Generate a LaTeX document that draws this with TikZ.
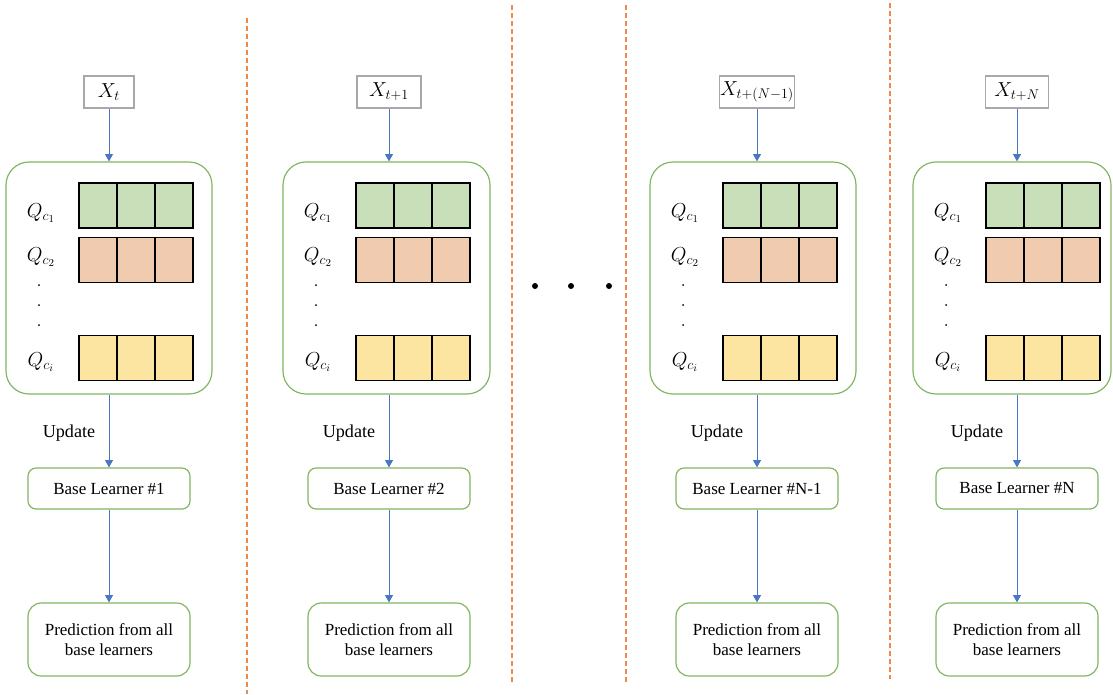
\documentclass[tikz,border=0pt]{standalone}
\usepackage{amsmath, amssymb}
\usepackage{fontspec}
\setmainfont{Liberation Serif}
\usepackage{xcolor}
\usepackage{tikz}
\usetikzlibrary{arrows.meta}

\definecolor{boxgreen}{HTML}{82B460}
\definecolor{flowblue}{HTML}{4A76C6}
\definecolor{xgray}{HTML}{A8A8A8}
\definecolor{sepor}{HTML}{EE8A4A}
\definecolor{cellgreen}{HTML}{C9DFB9}
\definecolor{cellorange}{HTML}{F1CBB0}
\definecolor{cellyellow}{HTML}{FBE5A1}

\begin{document}
\begin{tikzpicture}[
    x=0.3mm, y=-0.3mm,
    every node/.style={font=\fontsize{14.5}{17}\selectfont},
    mathlbl/.style={font=\fontsize{17.5}{20}\selectfont},
    xbox/.style={mathlbl, draw=xgray, line width=1pt, minimum height=9.6mm, inner sep=0pt},
    membox/.style={draw=boxgreen, line width=1pt, rounded corners=6.9mm, minimum height=69.6mm},
    cell/.style={draw=black, line width=1.2pt, minimum width=11.4mm, minimum height=13.5mm, inner sep=0pt},
    learner/.style={draw=boxgreen, line width=1pt, rounded corners=2.4mm, minimum width=48.6mm, minimum height=12.3mm},
    predbox/.style={draw=boxgreen, line width=1pt, rounded corners=4mm, minimum width=48.6mm, minimum height=21.9mm, align=center},
    flow/.style={draw=flowblue, line width=0.8pt, -{Triangle[width=2.4mm,length=2.2mm]}},
    sep/.style={draw=sepor, line width=1.3pt, dash pattern=on 1.5mm off 0.9mm},
]
\useasboundingbox (0,0) rectangle (1113,694);

% Separadores
\draw[sep] (247,18) -- (247,694);
\draw[sep] (512,5) -- (512,683);
\draw[sep] (626,5) -- (626,683);
\draw[sep] (890,3) -- (890,679);

% Pontos entre colunas
\foreach \d in {535,571,609}
    \fill (\d,286) circle (0.9mm);

% Colunas
\foreach \i/\cx/\ax/\w/\xw/\lbl/\num in {
    1/109/109/206/15/{X_t}/1,
    2/386.5/389/207/19.2/{X_{t+1}}/2,
    3/753/757/206/22.5/{X_{t+(N-1)}}/N-1,
    4/1012/1017/198/18.9/{X_{t+N}}/N}
{
    \pgfmathsetmacro{\rx}{\cx-\w/2+130}
    \pgfmathsetmacro{\lx}{\cx-\w/2+35}

    \node[xbox, minimum width={\xw*1mm}] (x\i) at (\ax,92) {$\lbl$};
    \node[membox, minimum width={\w*0.3mm}] (mem\i) at (\cx,278) {};

    % filas
    \foreach \r/\ry/\col in {1/205.5/cellgreen, 2/260/cellorange, 3/358/cellyellow}
        \foreach \k in {1,2,3}
            \node[cell, fill=\col] (q\i-\r-\k) at ({\rx+(\k-2)*38},\ry) {};

    \node[mathlbl] (qa\i) at (\lx,213) {$Q_{c_1}$};
    \node[mathlbl] (qb\i) at (\lx,257) {$Q_{c_2}$};
    \node[mathlbl] (qc\i) at (\lx,362) {$Q_{c_i}$};
    \foreach \dy in {285,305,325}
        \fill (\lx-2,\dy) circle (0.3mm);

    \node[font=\fontsize{15.5}{18}\selectfont] (upd\i) at ({\ax-40},433) {Update};
    \node[learner] (base\i) at (\ax,488.5) {Base Learner \#\num};
    \node[predbox] (pred\i) at (\ax,639.5) {Prediction from all\\base learners};

    \draw[flow] (x\i) -- (x\i |- mem\i.north);
    \draw[flow] (x\i |- mem\i.south) -- (base\i);
    \draw[flow] (base\i) -- (pred\i);
}

\end{tikzpicture}
\end{document}
